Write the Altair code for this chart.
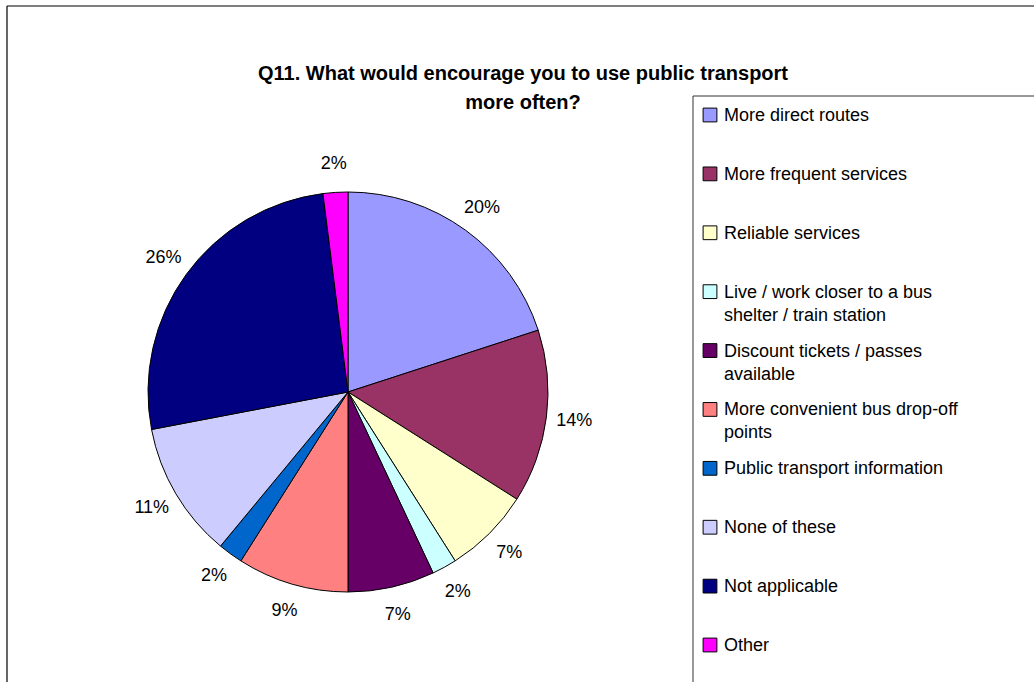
import altair as alt
import pandas as pd

categories = [
    "More direct routes",
    "More frequent services",
    "Reliable services",
    "Live / work closer to a bus shelter / train station",
    "Discount tickets / passes available",
    "More convenient bus drop-off points",
    "Public transport information",
    "None of these",
    "Not applicable",
    "Other",
]
values = [20, 14, 7, 2, 7, 9, 2, 11, 26, 2]
colors = ["#9999FF", "#993366", "#FFFFCC", "#CCFFFF", "#660066",
          "#FF8080", "#0066CC", "#CCCCFF", "#000080", "#FF00FF"]
legend_text = [
    "More direct routes",
    "More frequent services",
    "Reliable services",
    "Live / work closer to a bus|shelter / train station",
    "Discount tickets / passes|available",
    "More convenient bus drop-off|points",
    "Public transport information",
    "None of these",
    "Not applicable",
    "Other",
]
title_lines = ["Q11. What would encourage you to use public transport", "more often?"]

FONT = "Liberation Sans"

df = pd.DataFrame({
    "category": categories,
    "value": values,
    "order": list(range(len(categories))),
    "legend": legend_text,
})
df["pct"] = df["value"].astype(str) + "%"

one = pd.DataFrame({"a": [0]})

color = alt.Color("category:N", scale=alt.Scale(domain=categories, range=colors), legend=None)
theta = alt.Theta("value:Q", stack=True)
order = alt.Order("order:Q")

CX, CY = 348, 392

base = alt.Chart(df)

# outer chart frame (left and top edges only; the rest runs off the page)
frame_left = alt.Chart(one).mark_rule(stroke="black", strokeWidth=1.2).encode(
    x=alt.value(7), y=alt.value(6), y2=alt.value(682),
)
frame_top = alt.Chart(one).mark_rule(stroke="black", strokeWidth=1.2).encode(
    x=alt.value(7), x2=alt.value(1034), y=alt.value(6),
)

pie = base.mark_arc(outerRadius=200, stroke="black", strokeWidth=1).encode(
    theta=theta, color=color, order=order,
    x=alt.value(CX), y=alt.value(CY),
)

labels = base.mark_text(radius=228, fontSize=18, font=FONT, color="black").encode(
    theta=theta, text="pct:N", order=order,
    x=alt.value(CX), y=alt.value(CY),
)

yleg = alt.Y("category:N", scale=alt.Scale(domain=categories, range=[115, 645], padding=0), axis=None)

leg_sq = base.mark_square(size=190, stroke="black", strokeWidth=1, opacity=1).encode(
    x=alt.value(710), y=yleg, color=color,
)
leg_tx = base.mark_text(align="left", baseline="alphabetic", dy=6, fontSize=18, font=FONT,
                        lineBreak="|", lineHeight=23, color="black").encode(
    x=alt.value(724), y=yleg, text="legend:N",
)

leg_left = alt.Chart(one).mark_rule(stroke="#333333", strokeWidth=1).encode(
    x=alt.value(693), y=alt.value(96), y2=alt.value(682),
)
leg_top = alt.Chart(one).mark_rule(stroke="#333333", strokeWidth=1).encode(
    x=alt.value(693), x2=alt.value(1034), y=alt.value(96),
)

title = alt.Chart(one).mark_text(
    text=title_lines, align="center", baseline="alphabetic", fontSize=20,
    fontWeight="bold", font=FONT, lineHeight=29, color="black",
).encode(x=alt.value(523), y=alt.value(80))

chart = alt.layer(frame_left, frame_top, pie, labels, leg_left, leg_top,
                  leg_sq, leg_tx, title).properties(
    width=1034, height=682,
    padding=0,
    autosize=alt.AutoSizeParams(type="none"),
).configure_view(stroke=None)

chart.save("out.html", embed_options={"renderer": "svg", "actions": False})
